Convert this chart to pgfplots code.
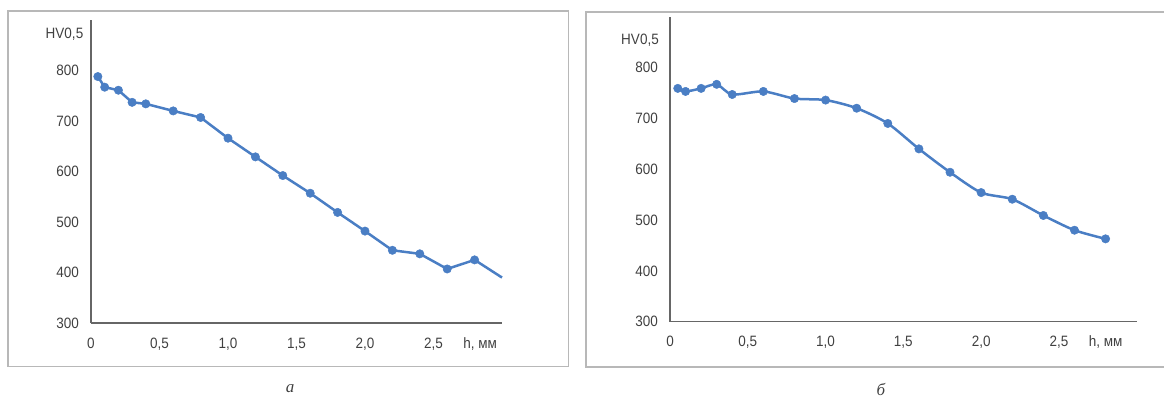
\documentclass[border=0pt]{standalone}
\usepackage{pgfplots}
\usepackage{pgfplotstable}
\pgfplotsset{compat=1.18}
\usepackage{fontspec}
\setmainfont[FakeStretch=0.9]{Liberation Sans}
\newfontfamily\serifit{Liberation Serif}
\definecolor{lineblue}{HTML}{4A7EC4}
\definecolor{txt}{HTML}{404040}
\definecolor{axgray}{HTML}{666666}
\definecolor{framegray}{HTML}{B8B8B8}

\pgfplotstableread{
x y
0.05 788
0.1 767
0.2 761
0.3 737
0.4 734
0.6 720
0.8 707
1.0 666
1.2 629
1.4 592
1.6 557
1.8 519
2.0 482
2.2 444
2.4 437
2.6 407
2.8 425
3.0 390
}\dataA

\pgfplotstableread{
x y
0.05 759
0.1 753
0.2 759
0.3 767
0.4 747
0.6 753
0.8 739
1.0 736
1.2 720
1.4 690
1.6 640
1.8 594
2.0 554
2.2 541
2.4 509
2.6 480
2.8 463
}\dataB

\begin{document}
\begin{tikzpicture}
\useasboundingbox (0pt,0pt) rectangle (1164pt,-400pt);
\draw[framegray, line width=1.2pt] (8pt,-11pt) rectangle (568.3pt,-366.7pt);
\draw[framegray, line width=1.2pt] (586pt,-12pt) rectangle (1180pt,-367pt);
\pgfplotsset{common/.style={
  scale only axis, anchor=south west,
  xmin=0, xmax=3, ymin=300, ymax=900,
  axis lines*=left,
  axis line style={axgray, line width=1.1pt, -},
  major tick length=0pt, tick style={draw=none},
  ytick={300,400,...,800},
  xtick={0,0.5,1,1.5,2,2.5},
  xticklabels={0,{0,5},{1,0},{1,5},{2,0},{2,5}},
  tick label style={font=\fontsize{15}{17}\selectfont, text=txt},
  /pgf/number format/assume math mode=true,
  yticklabel style={anchor=east, inner sep=0pt, xshift=-12pt},
  xticklabel style={anchor=base, inner sep=0pt, yshift=-25pt},
  clip=false,
}}
\begin{axis}[common, at={(91pt,-323pt)}, width=411pt, height=303pt]
\addplot[lineblue, line width=2.5pt, line join=round, mark=*, mark size=4.2pt,
  mark indices={1,2,3,4,5,6,7,8,9,10,11,12,13,14,15,16,17},
  mark options={solid, fill=lineblue, draw=lineblue, line width=0.5pt}] table {\dataA};
\node[anchor=base, inner sep=0pt, font=\fontsize{15}{17}\selectfont, text=txt, yshift=-25pt] at (axis cs:2.84,300) {h, мм};
\end{axis}
\begin{axis}[common, at={(670pt,-321.7pt)}, width=466.7pt, height=305pt]
\addplot[lineblue, line width=2.5pt, line join=round, smooth, tension=0.45, mark=*, mark size=4.2pt,
  mark options={solid, fill=lineblue, draw=lineblue, line width=0.5pt}] table {\dataB};
\node[anchor=base, inner sep=0pt, font=\fontsize{15}{17}\selectfont, text=txt, yshift=-25pt] at (axis cs:2.80,300) {h, мм};
\end{axis}
\node[font=\fontsize{15}{17}\selectfont, text=txt] at (64.5pt,-34.3pt) {HV0,5};
\node[font=\fontsize{15}{17}\selectfont, text=txt] at (640pt,-40pt) {HV0,5};
\node[font=\serifit\itshape\fontsize{17}{19}\selectfont, text=txt] at (290pt,-389pt) {а};
\node[font=\serifit\itshape\fontsize{17}{19}\selectfont, text=txt] at (881pt,-389pt) {б};
\end{tikzpicture}
\end{document}
